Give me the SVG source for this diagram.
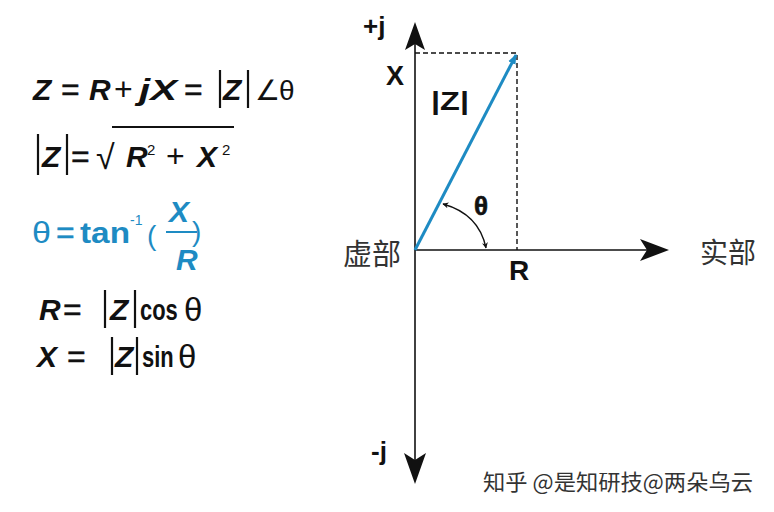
<svg xmlns="http://www.w3.org/2000/svg" width="774" height="512" viewBox="0 0 774 512">
<style>
.f{font-family:"Liberation Sans",Arial,sans-serif;font-weight:bold;fill:#111}
.i{font-style:italic}
.n{font-weight:normal}
.b{fill:#1e8bc3}
.lbl{font-family:"Liberation Sans",Arial,sans-serif;font-weight:bold;fill:#111}
.cjk{font-family:"Noto Sans CJK SC","Noto Sans CJK JP",sans-serif;fill:#333}
.bar{stroke:#111;stroke-width:2.2}
.ax{stroke:#111;stroke-width:1.6;fill:none}
.dash{stroke:#111;stroke-width:1.4;stroke-dasharray:5,3;fill:none}
</style>
<defs>
<marker id="ah" viewBox="0 0 10 10" refX="9" refY="5" markerWidth="6" markerHeight="6" orient="auto-start-reverse" markerUnits="userSpaceOnUse">
<path d="M0,0 L10,5 L0,10 L3,5 Z" fill="#111"/>
</marker>
<marker id="bh" viewBox="0 0 10 10" refX="9" refY="5" markerWidth="10" markerHeight="10" orient="auto" markerUnits="userSpaceOnUse">
<path d="M0,1 L10,5 L0,9 Z" fill="#1e8bc3"/>
</marker>
</defs>
<rect width="774" height="512" fill="#fff"/>

<g id="formulas" font-size="30">
<g id="eq1">
<text class="f i" x="33" y="100">Z</text>
<text class="f n" x="61" y="100" font-size="32" stroke="#111" stroke-width="0.4">=</text>
<text class="f i" x="89" y="100">R</text>
<text class="f n" x="114" y="100" font-size="32">+</text>
<text class="f i" x="139" y="100" textLength="38" lengthAdjust="spacingAndGlyphs">jX</text>
<text class="f n" x="184" y="100" font-size="32" stroke="#111" stroke-width="0.4">=</text>
<line class="bar" x1="220" y1="70" x2="220" y2="108"/>
<text class="f i" x="223" y="100">Z</text>
<line class="bar" x1="248" y1="70" x2="248" y2="108"/>
<text class="f n" x="255" y="100" font-size="28" fill="#222">∠</text>
<text class="f n" x="279" y="100" font-size="28">θ</text>
</g>
<g id="eq2">
<line class="bar" x1="38" y1="134" x2="38" y2="175"/>
<text class="f i" x="42" y="167">Z</text>
<line class="bar" x1="67" y1="134" x2="67" y2="175"/>
<text class="f n" x="71" y="167" font-size="32" stroke="#111" stroke-width="0.4">=</text>
<text class="f n" x="96" y="169" font-size="34">√</text>
<line x1="112" y1="127" x2="234" y2="127" stroke="#111" stroke-width="1.8"/>
<text class="f i" x="126" y="167">R</text>
<text class="f n" x="147" y="155" font-size="15">2</text>
<text class="f n" x="166" y="167" font-size="32">+</text>
<text class="f i" x="197" y="167">X</text>
<text class="f n" x="222" y="155" font-size="15">2</text>
</g>
<g id="eq3">
<text class="f n b" x="32" y="243" font-size="30" textLength="19" lengthAdjust="spacingAndGlyphs">θ</text>
<text class="f n b" x="56" y="243" font-size="32" stroke="#1e8bc3" stroke-width="0.4">=</text>
<text class="f b" x="80" y="243" textLength="50" lengthAdjust="spacingAndGlyphs">tan</text>
<text class="f n b" x="130" y="225" font-size="14">-1</text>
<text class="f n b" x="147" y="245" font-size="28">(</text>
<text class="f i b" x="169" y="222">X</text>
<line x1="166" y1="232" x2="197" y2="232" stroke="#1e8bc3" stroke-width="2"/>
<text class="f n b" x="192" y="241" font-size="28">)</text>
<text class="f i b" x="176" y="270">R</text>
</g>
<g id="eq4">
<text class="f i" x="39" y="320">R</text>
<text class="f n" x="63" y="320" font-size="32" stroke="#111" stroke-width="0.4">=</text>
<line class="bar" x1="105" y1="290" x2="105" y2="328"/>
<text class="f i" x="110" y="320">Z</text>
<line class="bar" x1="135" y1="290" x2="135" y2="328"/>
<text class="f" transform="translate(140,320) scale(0.73,1)">cos</text>
<text class="f n" x="184" y="321" font-size="33">θ</text>
</g>
<g id="eq5">
<text class="f i" x="37" y="367">X</text>
<text class="f n" x="67" y="367" font-size="32" stroke="#111" stroke-width="0.4">=</text>
<line class="bar" x1="112" y1="337" x2="112" y2="375"/>
<text class="f i" x="115" y="367">Z</text>
<line class="bar" x1="137" y1="337" x2="137" y2="375"/>
<text class="f" transform="translate(142,367) scale(0.73,1)">sin</text>
<text class="f n" x="178" y="368" font-size="33">θ</text>
</g>
</g>

<g id="connectors">
<line class="ax" x1="415" y1="44" x2="415" y2="462"/>
<path d="M415,22 L425,50 L415,44 L405,50 Z" fill="#111"/>
<path d="M415,484 L426,453 L415,460 L404,453 Z" fill="#111"/>
<line class="ax" x1="415" y1="250" x2="648" y2="250"/>
<path d="M669,250 L640,239 L647,250 L640,261 Z" fill="#111"/>
<path class="dash" d="M415,53 L517,53 L517,250"/>
<line x1="415" y1="250" x2="516" y2="55" stroke="#1e8bc3" stroke-width="3" marker-end="url(#bh)"/>
<path d="M443,204 Q479,214 486,248" fill="none" stroke="#111" stroke-width="1.3" marker-start="url(#ah)" marker-end="url(#ah)"/>
</g>

<g id="labels">
<text class="lbl" x="363" y="35" font-size="26">+j</text>
<text class="lbl" x="386" y="85" font-size="27">X</text>
<text class="lbl" x="431" y="110" font-size="26" textLength="38" lengthAdjust="spacingAndGlyphs">|Z|</text>
<text class="lbl" x="474" y="215" font-size="26" font-weight="normal" stroke="#111" stroke-width="0.6">θ</text>
<text class="lbl" x="509" y="280" font-size="28">R</text>
<text class="cjk" x="343" y="265" font-size="29">虚部</text>
<text class="cjk" x="700" y="263" font-size="28">实部</text>
<text class="lbl" x="371" y="460" font-size="26">-j</text>
<text class="cjk" x="483" y="490" font-size="22" fill="#d0d0d0" textLength="270" lengthAdjust="spacingAndGlyphs">知乎 @是知研技@两朵乌云</text>
</g>
</svg>
